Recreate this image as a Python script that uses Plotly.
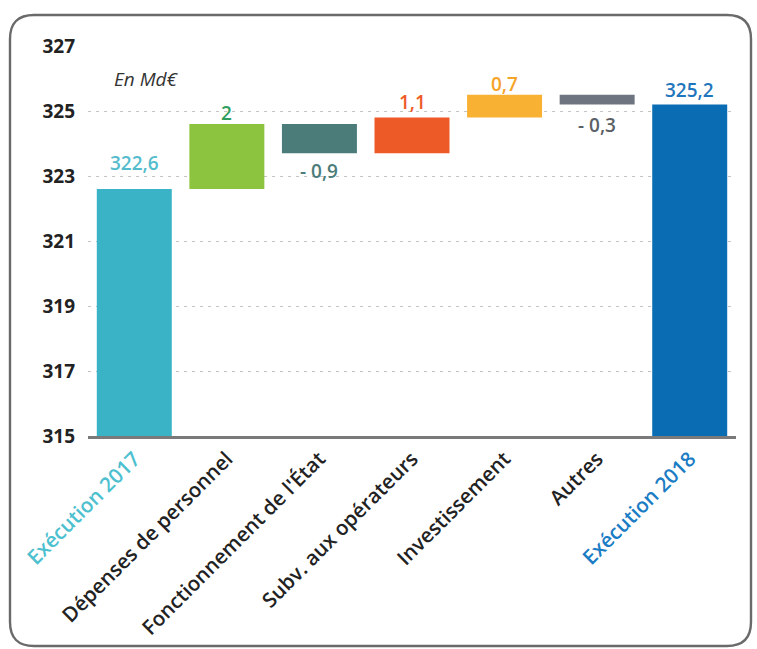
import plotly.graph_objects as go

# Budget execution bridge 2017 -> 2018 (Md€)
categories = [
    "Exécution 2017",
    "Dépenses de personnel",
    "Fonctionnement de l'État",
    "Subv. aux opérateurs",
    "Investissement",
    "Autres",
    "Exécution 2018",
]
start_value = 322.6
deltas = [2, -0.9, 1.1, 0.7, -0.3]
end_value = 325.2

bar_colors = ["#3bb3c6", "#8cc43f", "#4b7c7a", "#ee5a27", "#f8b133", "#6e7580", "#0a6db3"]
label_colors = ["#55bccd", "#2f9e5c", "#4b7c7a", "#ee5a27", "#f5a42a", "#5b5f66", "#1f76bd"]
tick_colors = ["#4cc0cf", "#222222", "#222222", "#222222", "#222222", "#222222", "#1a7cc4"]

y_ticks = [315, 317, 319, 321, 323, 325, 327]

# Floating bars: each change starts where the running total left off
bases, heights = [0], [start_value]
running = start_value
for d in deltas:
    bases.append(running)
    heights.append(d)
    running += d
bases.append(0)
heights.append(end_value)


def fmt(v):
    s = f"{abs(v):g}".replace(".", ",")
    return ("- " + s) if v < 0 else s


values = [start_value] + deltas + [end_value]
label_text = [fmt(v) for v in values]

W, H = 757, 649
L, R, T, B = 88, 21, 46, 213

fig = go.Figure()
fig.add_trace(go.Bar(
    x=categories,
    y=heights,
    base=bases,
    marker=dict(color=bar_colors, line=dict(width=0)),
    width=0.81,
    hoverinfo="skip",
))

# Value labels centred a little beyond the bar end (above rises/totals, below falls)
yshifts = [26, 11, -18, 16, 11, -20, 15]
for cat, b, h, txt, col, ys in zip(categories, bases, heights, label_text, label_colors, yshifts):
    top = b + h
    fig.add_annotation(
        x=cat, y=top, text=txt, showarrow=False,
        yanchor="middle", yshift=ys,
        font=dict(family="Open Sans", size=19, color=col, weight=600),
    )

fig.add_annotation(
    xref="paper", yref="y", x=0.037, y=325.98, xanchor="left", yanchor="middle",
    text="<i>En Md€</i>", showarrow=False,
    font=dict(family="Open Sans", size=19, color="#333333"),
)

# Rounded frame around the whole chart, drawn in paper coordinates
pw, ph = W - L - R, H - T - B


def px(X):
    return (X - L) / pw


def py(Y):
    return (H - B - Y) / ph


x0, x1, y0, y1, r = 10, 751, 15, 646, 24
path = (
    f"M {px(x0 + r)},{py(y0)} L {px(x1 - r)},{py(y0)} "
    f"Q {px(x1)},{py(y0)} {px(x1)},{py(y0 + r)} "
    f"L {px(x1)},{py(y1 - r)} Q {px(x1)},{py(y1)} {px(x1 - r)},{py(y1)} "
    f"L {px(x0 + r)},{py(y1)} Q {px(x0)},{py(y1)} {px(x0)},{py(y1 - r)} "
    f"L {px(x0)},{py(y0 + r)} Q {px(x0)},{py(y0)} {px(x0 + r)},{py(y0)} Z"
)
fig.add_shape(type="path", xref="paper", yref="paper", path=path,
              line=dict(color="#6a6a6a", width=2.4), layer="below")

ticktext = [f'<span style="color:{c}">{t}</span>' for t, c in zip(categories, tick_colors)]

fig.update_layout(
    width=W, height=H,
    margin=dict(l=L, r=R, t=T, b=B),
    paper_bgcolor="white",
    plot_bgcolor="white",
    showlegend=False,
    bargap=0.19,
    xaxis=dict(
        tickmode="array", tickvals=categories, ticktext=ticktext,
        tickangle=-45, automargin=False,
        tickfont=dict(family="Open Sans", size=20.5, color="#222222", weight=600),
        showline=True, linecolor="#7a7a7a", linewidth=2.5,
        showgrid=False, ticks="",
    ),
    yaxis=dict(
        range=[315, 327], automargin=False,
        tickmode="array", tickvals=y_ticks,
        ticktext=[str(v) for v in y_ticks],
        tickfont=dict(family="Open Sans", size=19, color="#222222", weight=700),
        showgrid=True, gridcolor="#c4c4c4", gridwidth=1.3, griddash="3px,5px",
        zeroline=False, showline=False, ticks="",
        ticklabelstandoff=12,
    ),
)

fig.write_html("out.html")
